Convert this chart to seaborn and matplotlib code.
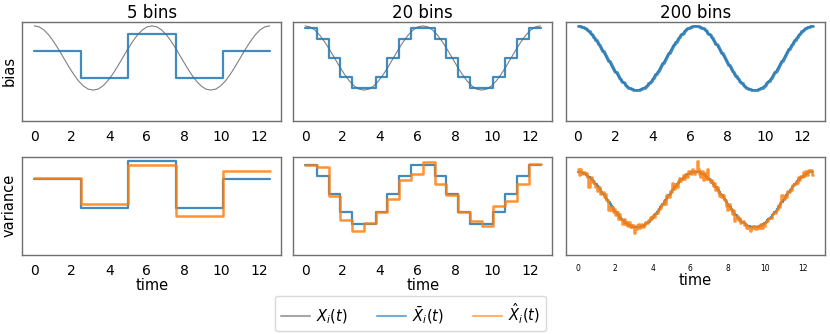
import matplotlib
matplotlib.use('Agg')
import matplotlib.pyplot as plt
from matplotlib.lines import Line2D
import numpy as np
import pandas as pd
import seaborn as sns

T_END = 4 * np.pi
TITLES = ['5 bins', '20 bins', '200 bins']

# true signal X_i(t), sampled every pi/12
true_curve = [1.00, 0.97, 0.87, 0.71, 0.50, 0.26, 0.00, -0.26, -0.50, -0.71, -0.87, -0.97, -1.00,
              -0.97, -0.87, -0.71, -0.50, -0.26, 0.00, 0.26, 0.50, 0.71, 0.87, 0.97, 1.00,
              0.97, 0.87, 0.71, 0.50, 0.26, 0.00, -0.26, -0.50, -0.71, -0.87, -0.97, -1.00,
              -0.97, -0.87, -0.71, -0.50, -0.26, 0.00, 0.26, 0.50, 0.71, 0.87, 0.97, 1.00]

# bin means (bar) and noisy estimates (hat)
bar_5 = [0.23, -0.61, 0.76, -0.61, 0.23]
hat_5 = [0.26, -0.49, 0.65, -0.86, 0.49]

bar_20 = [0.94, 0.58, 0.00, -0.58, -0.94, -0.94, -0.58, 0.00, 0.58, 0.94,
          0.94, 0.58, 0.00, -0.58, -0.94, -0.94, -0.58, 0.00, 0.58, 0.94]
hat_20 = [0.94, 0.86, -0.04, -0.82, -1.16, -0.93, -0.58, -0.16, 0.46, 0.65,
          1.03, 0.32, -0.02, -0.58, -0.84, -1.01, -0.37, -0.21, 0.32, 0.97]

bar_200 = [1.00, 1.00, 0.99, 0.98, 0.96, 0.94, 0.92, 0.89, 0.86, 0.83, 0.79, 0.75, 0.71, 0.66, 0.61, 0.56, 0.51, 0.45, 0.40, 0.34, 0.28, 0.22, 0.16, 0.09, 0.03,
           -0.03, -0.09, -0.16, -0.22, -0.28, -0.34, -0.40, -0.45, -0.51, -0.56, -0.61, -0.66, -0.71, -0.75, -0.79, -0.83, -0.86, -0.89, -0.92, -0.94, -0.96, -0.98, -0.99, -1.00, -1.00,
           -1.00, -1.00, -0.99, -0.98, -0.96, -0.94, -0.92, -0.89, -0.86, -0.83, -0.79, -0.75, -0.71, -0.66, -0.61, -0.56, -0.51, -0.45, -0.40, -0.34, -0.28, -0.22, -0.16, -0.09, -0.03,
           0.03, 0.09, 0.16, 0.22, 0.28, 0.34, 0.40, 0.45, 0.51, 0.56, 0.61, 0.66, 0.71, 0.75, 0.79, 0.83, 0.86, 0.89, 0.92, 0.94, 0.96, 0.98, 0.99, 1.00, 1.00,
           1.00, 1.00, 0.99, 0.98, 0.96, 0.94, 0.92, 0.89, 0.86, 0.83, 0.79, 0.75, 0.71, 0.66, 0.61, 0.56, 0.51, 0.45, 0.40, 0.34, 0.28, 0.22, 0.16, 0.09, 0.03,
           -0.03, -0.09, -0.16, -0.22, -0.28, -0.34, -0.40, -0.45, -0.51, -0.56, -0.61, -0.66, -0.71, -0.75, -0.79, -0.83, -0.86, -0.89, -0.92, -0.94, -0.96, -0.98, -0.99, -1.00, -1.00,
           -1.00, -1.00, -0.99, -0.98, -0.96, -0.94, -0.92, -0.89, -0.86, -0.83, -0.79, -0.75, -0.71, -0.66, -0.61, -0.56, -0.51, -0.45, -0.40, -0.34, -0.28, -0.22, -0.16, -0.09, -0.03,
           0.03, 0.09, 0.16, 0.22, 0.28, 0.34, 0.40, 0.45, 0.51, 0.56, 0.61, 0.66, 0.71, 0.75, 0.79, 0.83, 0.86, 0.89, 0.92, 0.94, 0.96, 0.98, 0.99, 1.00, 1.00]
hat_200 = [1.10, 0.90, 1.11, 0.93, 1.01, 0.99, 0.92, 0.97, 0.81, 0.45, 0.69, 0.80, 0.63, 0.68, 0.56, 0.46, 0.31, 0.40, 0.45, 0.19, 0.28, 0.27, 0.08, 0.19, -0.02,
           -0.03, -0.39, -0.26, -0.37, -0.28, -0.44, -0.35, -0.55, -0.46, -0.71, -0.51, -0.71, -0.71, -0.87, -0.71, -0.88, -0.81, -0.94, -0.82, -0.97, -0.91, -0.98, -0.91, -1.20, -1.05,
           -0.90, -0.88, -1.04, -0.95, -0.88, -1.00, -0.90, -0.79, -0.86, -0.86, -0.74, -0.63, -0.69, -0.58, -0.61, -0.61, -0.48, -0.49, -0.35, -0.34, -0.31, -0.18, -0.14, -0.01, -0.15,
           0.18, 0.14, 0.08, 0.32, 0.28, 0.59, 0.55, 0.40, 0.56, 0.46, 0.69, 0.78, 0.66, 0.75, 0.89, 0.75, 0.91, 0.91, 0.82, 1.02, 0.96, 0.93, 1.09, 1.02, 0.94,
           1.05, 1.38, 1.09, 0.93, 0.81, 1.02, 0.72, 0.94, 0.96, 0.73, 1.09, 0.75, 0.63, 0.71, 0.63, 0.51, 0.59, 0.35, 0.45, 0.29, 0.13, 0.22, 0.08, 0.15, -0.01,
           -0.03, -0.24, -0.36, -0.17, -0.33, -0.34, -0.50, -0.37, -0.76, -0.66, -0.58, -0.74, -0.66, -0.85, -0.79, -0.78, -0.91, -0.87, -1.02, -0.94, -1.04, -1.13, -1.04, -0.95, -1.02,
           -0.94, -1.05, -0.96, -0.98, -1.02, -0.89, -1.02, -0.87, -0.94, -0.79, -0.76, -0.77, -0.66, -0.66, -0.65, -0.50, -0.49, -0.48, -0.36, -0.34, -0.18, -0.27, -0.08, 0.16, 0.12,
           0.03, 0.14, 0.11, 0.32, 0.28, 0.40, 0.36, 0.53, 0.53, 0.56, 0.66, 0.61, 0.81, 0.72, 0.87, 0.83, 0.98, 0.87, 1.02, 0.99, 0.88, 1.08, 1.02, 1.06, 0.90]

BAR = [bar_5, bar_20, bar_200]
HAT = [hat_5, hat_20, hat_200]

GREY = 'grey'
BLUE = '#1f77b4'
ORANGE = '#ff7f0e'
SPINE = '#707070'

# y-limits
YLIM_TOP = (-1.95, 1.12)
YLIM_BOT = [(-1.98, 0.89), (-1.92, 1.19), (-1.98, 1.54)]


def step_frame(values):
    # steps-post: repeat last value at the right edge
    edges = np.linspace(0, T_END, len(values) + 1)
    return pd.DataFrame({'t': edges, 'v': list(values) + [values[-1]]})


def style_axis(ax, tick_size=10):
    ax.set_yticks([])
    ax.set_xticks([0, 2, 4, 6, 8, 10, 12])
    ax.tick_params(axis='x', labelsize=tick_size, length=3.5, color=SPINE,
                   labelcolor='black', pad=3)
    for s in ax.spines.values():
        s.set_color(SPINE)
        s.set_linewidth(1.0)
    ax.set_xlim(-0.628, T_END + 0.628)


sns.set_style('white')
plt.rcParams.update({'text.color': 'black', 'axes.labelcolor': 'black'})
fig = plt.figure(figsize=(8.3, 3.34), dpi=100)

lefts = [0.0271, 0.3534, 0.6819]
width = 0.312
top_row = [fig.add_axes([x, 0.639, width, 0.295]) for x in lefts]
bot_row = [fig.add_axes([x, 0.238, width, 0.292]) for x in lefts]

true_df = pd.DataFrame({'t': np.linspace(0, T_END, len(true_curve)), 'v': true_curve})

for i, ax in enumerate(top_row):
    sns.lineplot(data=true_df, x='t', y='v', ax=ax, color=GREY, lw=0.8,
                 estimator=None, sort=False)
    sns.lineplot(data=step_frame(BAR[i]), x='t', y='v', ax=ax, color=BLUE,
                 lw=1.6 if i < 2 else 2.0, alpha=0.85, drawstyle='steps-post',
                 estimator=None, sort=False)
    style_axis(ax)
    ax.set_ylim(*YLIM_TOP)
    ax.set_xlabel('')
    ax.set_ylabel('')
    ax.set_title(TITLES[i], fontsize=12, pad=3)

for i, ax in enumerate(bot_row):
    sns.lineplot(data=step_frame(BAR[i]), x='t', y='v', ax=ax, color=BLUE, lw=1.6,
                 alpha=0.85, drawstyle='steps-post', estimator=None, sort=False)
    sns.lineplot(data=step_frame(HAT[i]), x='t', y='v', ax=ax, color=ORANGE, lw=1.8,
                 alpha=0.85, drawstyle='steps-post', estimator=None, sort=False)
    style_axis(ax, tick_size=10 if i < 2 else 5.5)
    ax.set_ylim(*YLIM_BOT[i])
    ax.set_ylabel('')
    ax.set_xlabel('time', fontsize=10.5, labelpad=0)

top_row[0].set_ylabel('bias', fontsize=10.5)
bot_row[0].set_ylabel('variance', fontsize=10.5)

handles = [Line2D([], [], color=GREY, lw=1.5, alpha=0.7),
           Line2D([], [], color=BLUE, lw=1.5, alpha=0.6),
           Line2D([], [], color=ORANGE, lw=1.5, alpha=0.6)]
labels = [r'$X_i(t)$', r'$\bar{X}_i(t)$', r'$\hat{X}_i(t)$']
fig.legend(handles, labels, loc='center', bbox_to_anchor=(0.4946, 0.0614), ncol=3,
           fontsize=10.5, handlelength=2.0, handletextpad=0.4, columnspacing=2.0,
           frameon=True, edgecolor='#d0d0d0', borderpad=0.4)

fig.savefig('out.png', dpi=100)
